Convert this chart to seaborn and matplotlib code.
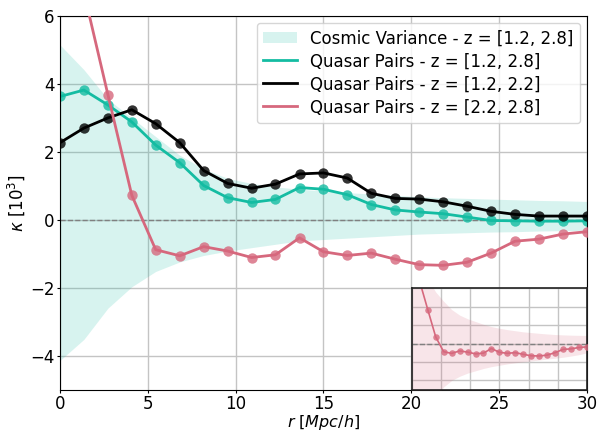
import matplotlib
matplotlib.use("Agg")
import matplotlib.pyplot as plt
import seaborn as sns

# ---- data ----
r = [0.0, 1.36, 2.73, 4.09, 5.45, 6.82, 8.18, 9.55, 10.91, 12.27, 13.64, 15.0,
     16.36, 17.73, 19.09, 20.45, 21.82, 23.18, 24.55, 25.91, 27.27, 28.64, 30.0]

kappa_all = [3.63, 3.82, 3.38, 2.88, 2.2, 1.68, 1.01, 0.65, 0.51, 0.6, 0.95, 0.9,
             0.74, 0.45, 0.29, 0.23, 0.18, 0.08, -0.02, -0.03, -0.04, -0.04, -0.03]
kappa_low = [2.27, 2.7, 3.0, 3.24, 2.83, 2.27, 1.45, 1.07, 0.93, 1.05, 1.35, 1.38,
             1.23, 0.78, 0.63, 0.61, 0.53, 0.4, 0.25, 0.16, 0.11, 0.11, 0.11]
kappa_high = [9.5, 6.7, 3.68, 0.72, -0.88, -1.06, -0.79, -0.92, -1.11, -1.03, -0.53, -0.94,
              -1.05, -0.98, -1.16, -1.32, -1.34, -1.25, -0.98, -0.63, -0.57, -0.42, -0.35]

cv_upper = [5.15, 4.42, 3.55, 3.0, 2.45, 1.9, 1.5, 1.22, 1.07, 0.97, 0.9, 0.85,
            0.8, 0.76, 0.72, 0.68, 0.65, 0.63, 0.61, 0.59, 0.57, 0.56, 0.54]
cv_lower = [-4.14, -3.52, -2.6, -1.97, -1.52, -1.24, -1.05, -0.92, -0.82, -0.72, -0.62, -0.58,
            -0.54, -0.5, -0.46, -0.42, -0.4, -0.38, -0.36, -0.35, -0.33, -0.32, -0.31]

cvh_upper = [12.0, 9.0, 7.0, 5.6, 4.6, 3.7, 3.1, 2.7, 2.4, 2.1, 1.85, 1.67,
             1.52, 1.4, 1.28, 1.2, 1.12, 1.05, 0.99, 0.95, 0.92, 0.9, 0.89]
cvh_lower = [-12.0, -9.0, -7.2, -5.8, -4.7, -4.0, -3.55, -3.2, -2.95, -2.7, -2.5, -2.35,
             -2.2, -2.08, -1.97, -1.88, -1.78, -1.68, -1.58, -1.48, -1.35, -1.2, -1.0]

labels = ["Cosmic Variance - z = [1.2, 2.8]",
          "Quasar Pairs - z = [1.2, 2.8]",
          "Quasar Pairs - z = [1.2, 2.2]",
          "Quasar Pairs - z = [2.2, 2.8]"]

xticks = [0, 5, 10, 15, 20, 25, 30]
yticks = [-4, -2, 0, 2, 4, 6]

TEAL = "#14bca2"
BLACK = "#000000"
PINK = "#d6687d"

plt.rcParams["font.family"] = ["DejaVu Sans"]
plt.rcParams["font.size"] = 12

fig = plt.figure(figsize=(6, 4.32), dpi=100)
ax = fig.add_axes([0.1, 0.098, 0.878, 0.865])

ax.fill_between(r, cv_lower, cv_upper, color=TEAL, alpha=0.17, linewidth=0,
                label=labels[0], zorder=1)
ax.axhline(0, color="gray", ls="--", lw=1, zorder=1.5)

series = [(kappa_all, TEAL, labels[1]), (kappa_low, BLACK, labels[2]),
          (kappa_high, PINK, labels[3])]
for i, (vals, col, lab) in enumerate(series):
    sns.lineplot(x=r, y=vals, ax=ax, color=col, lw=2, label=lab, zorder=2 + i)
    sns.scatterplot(x=r, y=vals, ax=ax, color=col, s=56, alpha=0.8, linewidth=0,
                    zorder=2.5 + i, legend=False)

ax.set_xlim(0, 30)
ax.set_ylim(-5, 6)
ax.set_xticks(xticks)
ax.set_yticks(yticks)
ax.grid(True, color="#c4c4c4", lw=1)
ax.set_axisbelow(True)
ax.tick_params(labelsize=12, length=2.5, pad=1.5)
ax.set_xlabel(r"$r$ [$Mpc/h$]", fontsize=11.5, labelpad=-0.5)
ax.set_ylabel(r"$\kappa$ [$10^3$]", fontsize=12, labelpad=2)
ax.legend(loc="upper right", fontsize=12, labelspacing=0.3, borderaxespad=0.4)

# inset
axi = ax.inset_axes([0.668, 0.0, 0.332, 0.271])
axi.set_facecolor("white")
axi.fill_between(r, cvh_lower, cvh_upper, color=PINK, alpha=0.17, linewidth=0, zorder=1)
axi.axhline(0, color="gray", ls="--", lw=1, zorder=1.5)
sns.lineplot(x=r, y=kappa_high, ax=axi, color=PINK, lw=1.2, zorder=2)
sns.scatterplot(x=r, y=kappa_high, ax=axi, color=PINK, s=22, alpha=0.8, linewidth=0,
                zorder=3, legend=False)
axi.set_xlim(0, 30)
axi.set_ylim(-5, 6)
axi.set_xticks(xticks)
axi.set_yticks(yticks)
axi.grid(True, color="#c4c4c4", lw=1)
axi.set_axisbelow(True)
axi.tick_params(length=0, labelleft=False, labelbottom=False)
axi.set_xlabel("")
axi.set_ylabel("")
for sp in axi.spines.values():
    sp.set_linewidth(1.2)
    sp.set_color("#222222")

fig.savefig("out.png", dpi=100)
